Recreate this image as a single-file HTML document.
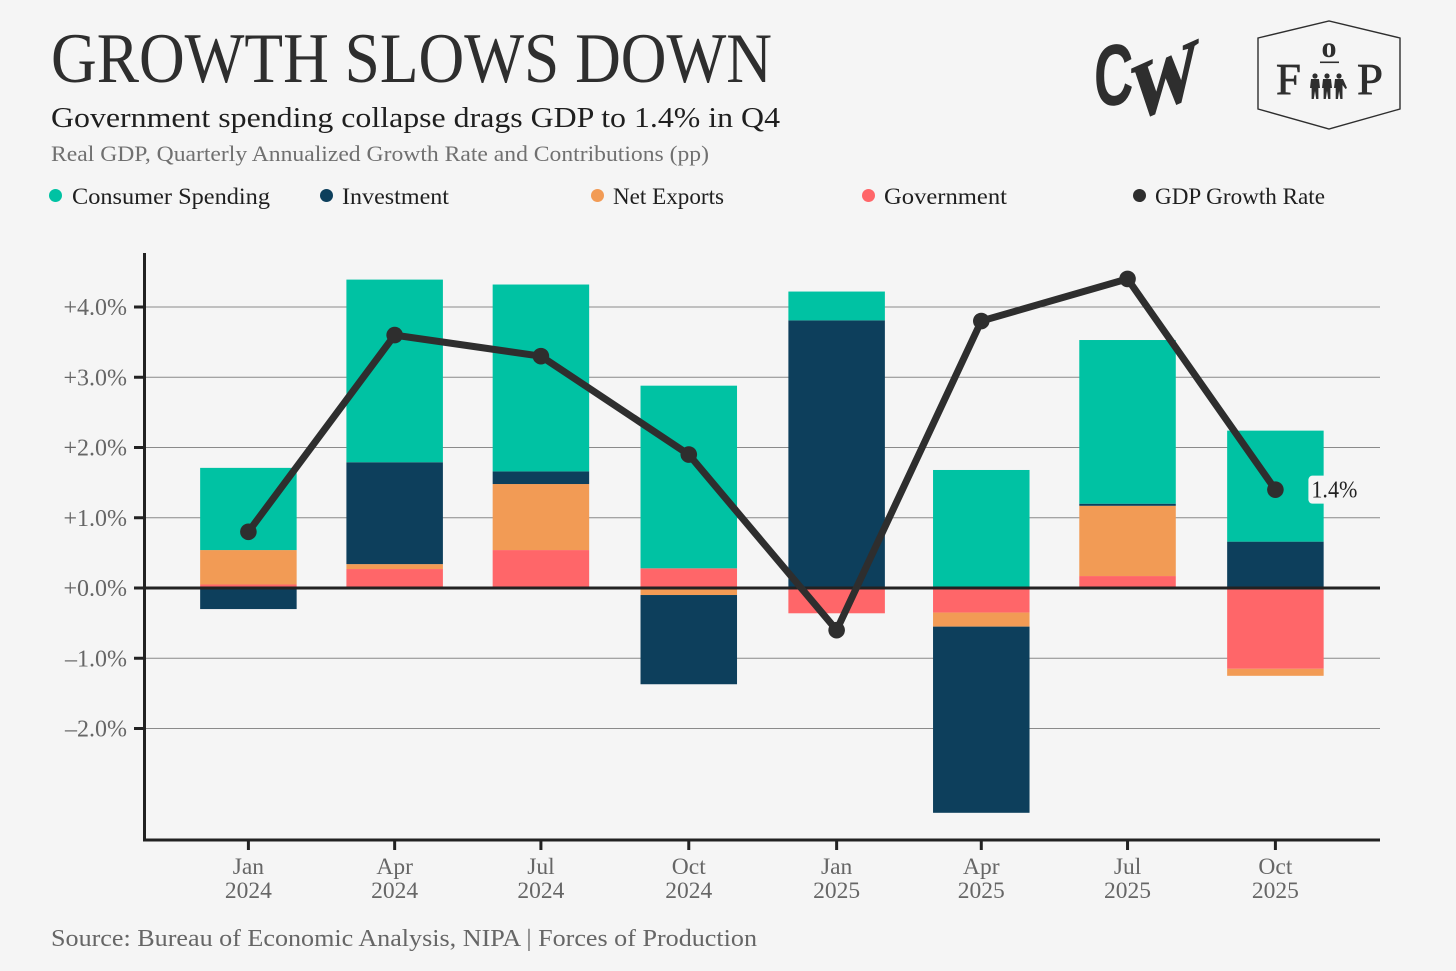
<!DOCTYPE html>
<html lang="en">
<head>
<meta charset="utf-8">
<title>Growth Slows Down</title>
<style>
html,body{margin:0;padding:0;background:#f5f5f5;width:1456px;height:971px;overflow:hidden}
svg{display:block}
text{font-family:"Liberation Serif",serif}
</style>
</head>
<body>
<svg id="chart" xmlns="http://www.w3.org/2000/svg" width="1456" height="971" viewBox="0 0 1456 971">
  <rect width="1456" height="971" fill="#f5f5f5"/>
  <text x="51" y="82" font-size="71" fill="#2e2e2e" textLength="721" lengthAdjust="spacingAndGlyphs">GROWTH SLOWS DOWN</text>
  <text x="51" y="127" font-size="29" fill="#1f1f1f" textLength="729" lengthAdjust="spacingAndGlyphs">Government spending collapse drags GDP to 1.4% in Q4</text>
  <text x="51" y="161" font-size="22" fill="#707070" textLength="658" lengthAdjust="spacingAndGlyphs">Real GDP, Quarterly Annualized Growth Rate and Contributions (pp)</text>

  <g font-size="23.5" fill="#1f1f1f">
    <g><circle cx="55.5" cy="195.5" r="6.5" fill="#00c2a3"/><text x="72" y="204" textLength="198" lengthAdjust="spacingAndGlyphs">Consumer Spending</text></g>
    <g><circle cx="326.5" cy="195.5" r="6.5" fill="#0d3f5c"/><text x="342" y="204" textLength="107" lengthAdjust="spacingAndGlyphs">Investment</text></g>
    <g><circle cx="597.5" cy="195.5" r="6.5" fill="#f29b55"/><text x="613" y="204" textLength="111" lengthAdjust="spacingAndGlyphs">Net Exports</text></g>
    <g><circle cx="868.5" cy="195.5" r="6.5" fill="#ff6669"/><text x="884" y="204" textLength="123" lengthAdjust="spacingAndGlyphs">Government</text></g>
    <g><circle cx="1139.5" cy="195.5" r="6.5" fill="#2e2e2e"/><text x="1155" y="204" textLength="170" lengthAdjust="spacingAndGlyphs">GDP Growth Rate</text></g>
  </g>

  <g fill="#2e2e2e">
    <text transform="translate(1094 107) skewY(-6) scale(0.88 1.4)" font-size="62" font-weight="700" style="font-family:'Liberation Sans',sans-serif">C</text>
    <text transform="translate(1131 123) skewY(-24) scale(1 1.2)" font-size="68" font-weight="700" stroke="#2e2e2e" stroke-width="1.5">W</text>
  </g>

  <g fill="#2e2e2e">
    <polygon points="1258,38 1329,21 1400,38 1400,109 1329,129 1258,109" fill="none" stroke="#2e2e2e" stroke-width="1.4"/>
    <text x="1276" y="94" font-size="44" textLength="25" lengthAdjust="spacingAndGlyphs" stroke="#2e2e2e" stroke-width="0.7">F</text>
    <text x="1329" y="57" font-size="30" font-weight="700" text-anchor="middle">o</text>
    <rect x="1320" y="61.5" width="19" height="1.6"/>
    <text x="1357" y="94" font-size="44" textLength="26" lengthAdjust="spacingAndGlyphs" stroke="#2e2e2e" stroke-width="0.7">P</text>
    <g>
      <g><circle cx="1315" cy="76" r="2.6"/><path d="M1311 79h8l1 9-1.600 0v11h-2.200l-1.200-8-1.200 8h-2.200V88H1310z"/></g>
      <g><circle cx="1327" cy="76" r="2.6"/><path d="M1323 79h8l1 9-1.600 0v11h-2.200l-1.200-8-1.200 8h-2.200V88H1322z"/></g>
      <g><circle cx="1339" cy="76" r="2.600"/><path d="M1335 79h8l4 9-1.500 1-3-4v14h-2.200l-1.200-8-1.200 8h-2.200V88H1334z"/></g>
    </g>
  </g>

  <g id="grid"></g>
  <g id="bars"></g>
  <g id="axes"></g>
  <g id="line"></g>

  <text x="51" y="946" font-size="24" fill="#666666" textLength="706" lengthAdjust="spacingAndGlyphs">Source: Bureau of Economic Analysis, NIPA | Forces of Production</text>
</svg>
<script>
var dates = ['2024-01-01','2024-04-01','2024-07-01','2024-10-01','2025-01-01','2025-04-01','2025-07-01','2025-10-01'];
var monthLabels = ['Jan','Apr','Jul','Oct','Jan','Apr','Jul','Oct'];
var yearLabels = ['2024','2024','2024','2024','2025','2025','2025','2025'];
var government = [0.05, 0.27, 0.54, 0.28, -0.36, -0.35, 0.17, -1.15];
var netExports = [0.49, 0.07, 0.94, -0.10, 0.00, -0.20, 1.00, -0.10];
var investment = [-0.30, 1.45, 0.18, -1.27, 3.81, -2.65, 0.03, 0.66];
var consumer = [1.17, 2.60, 2.66, 2.60, 0.41, 1.68, 2.33, 1.58];
var gdpGrowth = [0.8, 3.6, 3.3, 1.9, -0.6, 3.8, 4.4, 1.4];
var yTicks = [4, 3, 2, 1, 0, -1, -2];
var yTickLabels = ['+4.0%','+3.0%','+2.0%','+1.0%','+0.0%','\u20131.0%','\u20132.0%'];
var lastValueLabel = '1.4%';

var NS = 'http://www.w3.org/2000/svg';
function make(parent, tag, attrs) {
  var el = document.createElementNS(NS, tag);
  for (var k in attrs) el.setAttribute(k, attrs[k]);
  parent.appendChild(el);
  return el;
}
function dayOf(s) { return Date.parse(s + 'T00:00:00Z') / 86400000; }
var d0 = dayOf(dates[0]);
var d1 = dayOf(dates[dates.length - 1]);
function xScale(s) { return 248.4 + (dayOf(s) - d0) * (1275.4 - 248.4) / (d1 - d0); }
function yScale(v) { return 588 - v * 70.25; }

var grid = document.getElementById('grid');
var bars = document.getElementById('bars');
var axes = document.getElementById('axes');
var line = document.getElementById('line');

yTicks.forEach(function (t, i) {
  if (t === 0) return;
  var g = make(grid, 'line', { x1: 144, x2: 1380, y1: yScale(t), y2: yScale(t), stroke: '#8a8a8a', 'stroke-width': 1.1 });
  
  
});

var stackOrder = [
  { name: 'government', values: government, color: '#ff6669' },
  { name: 'net-exports', values: netExports, color: '#f29b55' },
  { name: 'investment', values: investment, color: '#0d3f5c' },
  { name: 'consumer', values: consumer, color: '#00c2a3' }
];
var barWidth = 96.5;
dates.forEach(function (d, i) {
  var pos = 0, neg = 0;
  stackOrder.forEach(function (s) {
    var v = s.values[i];
    if (v === 0) return;
    var from = v > 0 ? pos : neg;
    var to = from + v;
    if (v > 0) pos = to; else neg = to;
    var r = make(bars, 'rect', {
      x: xScale(d) - barWidth / 2,
      y: Math.min(yScale(from), yScale(to)),
      width: barWidth,
      height: Math.abs(yScale(to) - yScale(from)),
      fill: s.color
    });
    
    
  });
});

var zero = make(axes, 'line', { x1: 144, x2: 1380, y1: yScale(0), y2: yScale(0), stroke: '#222222', 'stroke-width': 3 });


var yAxis = make(axes, 'line', { x1: 144.5, x2: 144.5, y1: 253, y2: 841.5, stroke: '#222222', 'stroke-width': 3 });


var xAxis = make(axes, 'line', { x1: 143, x2: 1380, y1: 840, y2: 840, stroke: '#222222', 'stroke-width': 3 });



yTicks.forEach(function (t, i) {
  var m = make(axes, 'line', { x1: 134, x2: 144, y1: yScale(t), y2: yScale(t), stroke: '#222222', 'stroke-width': 3 });
  
  
  var l = make(axes, 'text', { x: 127, y: yScale(t) + 8, 'text-anchor': 'end', 'font-size': 24, fill: '#666666' });
  l.textContent = yTickLabels[i];
  
  
});

dates.forEach(function (d, i) {
  var x = xScale(d);
  var m = make(axes, 'line', { x1: x, x2: x, y1: 840, y2: 850, stroke: '#222222', 'stroke-width': 3 });
  
  
  var a = make(axes, 'text', { x: x, y: 874, 'text-anchor': 'middle', 'font-size': 23.5, fill: '#666666' });
  a.textContent = monthLabels[i];
  
  
  var b = make(axes, 'text', { x: x, y: 898, 'text-anchor': 'middle', 'font-size': 23.5, fill: '#666666' });
  b.textContent = yearLabels[i];
  
  
});

var pts = dates.map(function (d, i) { return xScale(d) + ',' + yScale(gdpGrowth[i]); }).join(' ');
var pl = make(line, 'polyline', { points: pts, fill: 'none', stroke: '#2e2e2e', 'stroke-width': 7, 'stroke-linejoin': 'round' });


dates.forEach(function (d, i) {
  var c = make(line, 'circle', { cx: xScale(d), cy: yScale(gdpGrowth[i]), r: 8.3, fill: '#2e2e2e' });
  
  
});
var lastIndex = dates.length - 1;
var lx = xScale(dates[lastIndex]);
var ly = yScale(gdpGrowth[lastIndex]);
var box = make(line, 'rect', { x: lx + 33, y: ly - 14, width: 50, height: 28, rx: 4, fill: '#f5f5f5' });


var lv = make(line, 'text', { x: lx + 36, y: ly + 8, 'font-size': 24, fill: '#222222', textLength: 46, lengthAdjust: 'spacingAndGlyphs' });
lv.textContent = lastValueLabel;


</script>
</body>
</html>
